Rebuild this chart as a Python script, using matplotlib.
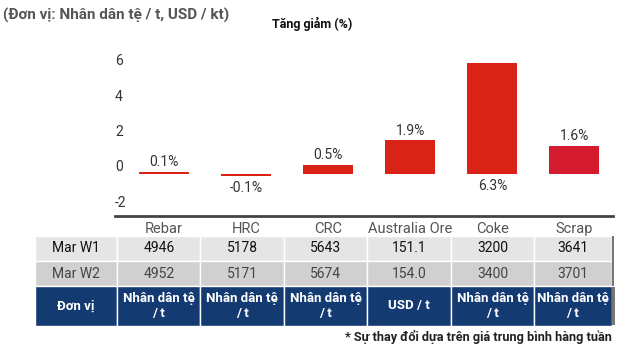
import matplotlib
matplotlib.use("Agg")
from matplotlib import pyplot as plt
from matplotlib.patches import Rectangle
from matplotlib.transforms import ScaledTranslation

plt.rcParams['font.family'] = ['Roboto', 'DejaVu Sans']

# data
categories = ['Rebar', 'HRC', 'CRC', 'Australia Ore', 'Coke', 'Scrap']
changes = [0.1, -0.1, 0.5, 1.9, 6.3, 1.6]
row_labels = ['Mar W1', 'Mar W2']
w1_values = ['4946', '5178', '5643', '151.1', '3200', '3641']
w2_values = ['4952', '5171', '5674', '154.0', '3400', '3701']
unit_label = 'Đơn vị'
units = ['Nhân dân tệ\n/ t', 'Nhân dân tệ\n/ t', 'Nhân dân tệ\n/ t', 'USD / t',
         'Nhân dân tệ\n/ t', 'Nhân dân tệ\n/ t']
bar_colors = ['#d92316', '#d92316', '#d92316', '#d92316', '#d92316', '#d41c2e']

W, H = 623, 361
fig = plt.figure(figsize=(W / 100, H / 100), dpi=100)

# bar chart axes (pixel box: x 115..613, y 59..216)
ax = fig.add_axes([115 / W, 1 - 216 / H, (613 - 115) / W, (216 - 59) / H])
x = range(len(categories))
ax.bar(x, changes, width=0.61, color=bar_colors)
ax.set_xlim(-0.6, 5.47)
ax.set_ylim(-2.38, 6.5)
ax.set_yticks([-2, 0, 2, 4, 6])
ax.set_yticklabels(['-2', '0', '2', '4', '6'])
for s in ['top', 'right', 'left']:
    ax.spines[s].set_visible(False)
ax.spines['bottom'].set_color('#444444')
ax.spines['bottom'].set_linewidth(2)
ax.tick_params(axis='y', length=0, labelsize=10, labelcolor='#333333', pad=0)
ax.tick_params(axis='x', length=0, labelsize=10.5, labelcolor='#555555', pad=4)
ax.set_xticks(list(x))
ax.set_xticklabels(categories)
# y labels sit inside the axes, left aligned and a bit above their level
for lbl in ax.get_yticklabels():
    lbl.set_horizontalalignment('left')
    lbl.set_x(0)
    lbl.set_transform(ax.get_yaxis_transform() + ScaledTranslation(0, 0.08, fig.dpi_scale_trans))
for i, v in enumerate(changes):
    if v < 0 or v > 5:
        ax.annotate(f'{v:.1f}%', (i, min(v, 0)), xytext=(0, -4), textcoords='offset points',
                    ha='center', va='top', fontsize=10, color='#333333')
    else:
        ax.annotate(f'{v:.1f}%', (i, v), xytext=(0, 2), textcoords='offset points',
                    ha='center', va='bottom', fontsize=10, color='#333333')

# overlay axes in pixel coordinates for titles and table
ov = fig.add_axes([0, 0, 1, 1])
ov.set_xlim(0, W)
ov.set_ylim(H, 0)
ov.axis('off')
ov.patch.set_alpha(0)

ov.text(3, 15, '(Đơn vị: Nhân dân tệ / t, USD / kt)', fontsize=11, fontweight='bold',
        color='#555555', ha='left', va='center')
ov.text(272, 24, 'Tăng giảm (%)', fontsize=9, fontweight='bold', color='#111111',
        ha='left', va='center')

col_edges = [35, 117.3, 200.3, 284.3, 367.3, 451.3, 534, 612]
rows = [(236, 261, '#e5e5e5', '#111111', w1_values, row_labels[0]),
        (261, 286, '#d0d0d0', '#444444', w2_values, row_labels[1])]
for y0, y1, bg, fg, vals, lab in rows:
    cells = [lab] + vals
    for j in range(len(cells)):
        xa, xb = col_edges[j], col_edges[j + 1]
        ov.add_patch(Rectangle((xa, y0), xb - xa, y1 - y0, facecolor=bg, edgecolor='white', lw=1))
        ov.text((xa + xb) / 2, (y0 + y1) / 2, cells[j], fontsize=10, color=fg,
                ha='center', va='center')
hy0, hy1 = 286, 325.5
head = [unit_label] + units
for j in range(len(head)):
    xa, xb = col_edges[j], col_edges[j + 1]
    ov.add_patch(Rectangle((xa, hy0), xb - xa, hy1 - hy0, facecolor='#143a72', edgecolor='white', lw=1))
    ov.text((xa + xb) / 2, (hy0 + hy1) / 2, head[j], fontsize=9.5, color='white',
            fontweight='bold', ha='center', va='center', linespacing=1.2)
# scroll bar stub at the right edge
ov.add_patch(Rectangle((612, 236), 1.5, 50, facecolor='#777777', edgecolor='none'))
ov.add_patch(Rectangle((612, 287), 3, 38, facecolor='#777777', edgecolor='none'))

ov.text(612, 337, '* Sự thay đổi dựa trên giá trung bình hàng tuần', fontsize=9.2,
        fontweight='bold', color='#222222', ha='right', va='center')

fig.savefig('out.png', dpi=100)
